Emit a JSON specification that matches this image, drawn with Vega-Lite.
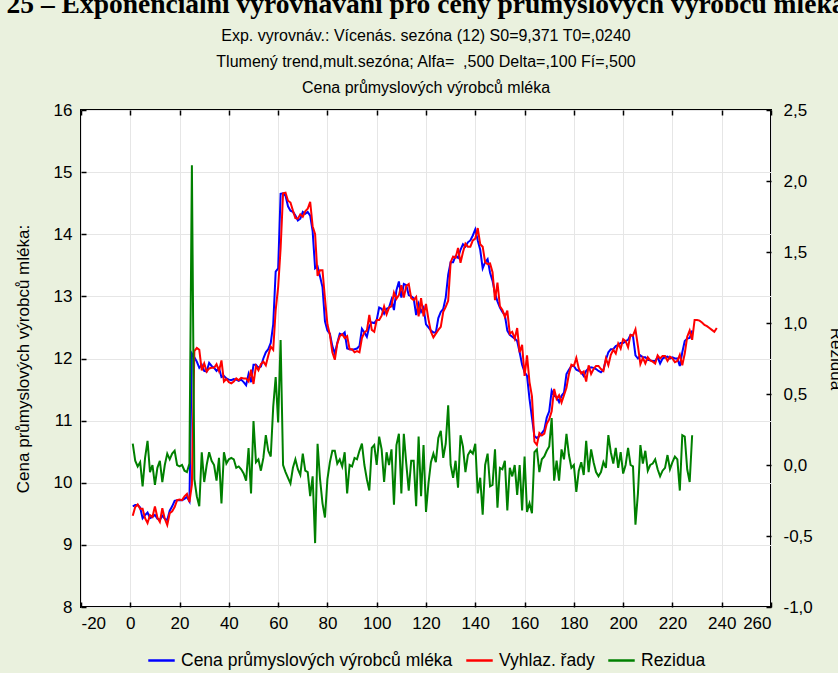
{
  "$schema": "https://vega.github.io/schema/vega-lite/v6.json",
  "width": 690,
  "height": 497,
  "autosize": {"type": "none"},
  "padding": {"left": 81, "top": 110, "right": 67, "bottom": 66},
  "background": "#eaf1de",
  "title": {
    "text": "25 – Exponenciální vyrovnávání pro ceny průmyslových výrobců mléka",
    "subtitle": ["Exp. vyrovnáv.: Vícenás. sezóna (12) S0=9,371 T0=,0240", "Tlumený trend,mult.sezóna; Alfa=\u00a0 ,500 Delta=,100 Fí=,500", "Cena průmyslových výrobců mléka"],
    "anchor": "middle",
    "font": "Liberation Serif",
    "fontSize": 27.5,
    "fontWeight": "bold",
    "color": "black",
    "subtitleFont": "Liberation Sans",
    "subtitleFontSize": 16,
    "subtitleColor": "black",
    "subtitleLineHeight": 26,
    "subtitlePadding": 10,
    "offset": 5
  },
  "data": {"values": [
{"t":1,"c":9.62,"r":9.47,"z":0.15},{"t":2,"c":9.64,"r":9.61,"z":0.03},{"t":3,"c":9.64,"r":9.65,"z":-0.01},{"t":4,"c":9.60,"r":9.58,"z":0.02},{"t":5,"c":9.43,"r":9.58,"z":-0.15},
{"t":6,"c":9.48,"r":9.43,"z":0.05},{"t":7,"c":9.52,"r":9.35,"z":0.17},{"t":8,"c":9.43,"r":9.48,"z":-0.05},{"t":9,"c":9.45,"r":9.45,"z":0.0},{"t":10,"c":9.48,"r":9.62,"z":-0.14},
{"t":11,"c":9.42,"r":9.44,"z":-0.02},{"t":12,"c":9.40,"r":9.37,"z":0.03},{"t":13,"c":9.47,"r":9.59,"z":-0.12},{"t":14,"c":9.42,"r":9.42,"z":0.0},{"t":15,"c":9.40,"r":9.32,"z":0.08},
{"t":16,"c":9.55,"r":9.51,"z":0.04},{"t":17,"c":9.62,"r":9.54,"z":0.08},{"t":18,"c":9.71,"r":9.61,"z":0.10},{"t":19,"c":9.72,"r":9.72,"z":0.0},{"t":20,"c":9.72,"r":9.73,"z":-0.01},
{"t":21,"c":9.72,"r":9.72,"z":0.0},{"t":22,"c":9.74,"r":9.78,"z":-0.04},{"t":23,"c":9.77,"r":9.82,"z":-0.05},{"t":24,"c":9.70,"r":9.69,"z":0.01},{"t":25,"c":12.08,"r":9.97,"z":2.11},
{"t":26,"c":12.02,"r":12.12,"z":-0.10},{"t":27,"c":11.95,"r":12.17,"z":-0.22},{"t":28,"c":11.85,"r":12.14,"z":-0.29},{"t":29,"c":11.90,"r":11.81,"z":0.09},{"t":30,"c":11.80,"r":11.92,"z":-0.12},
{"t":31,"c":11.79,"r":11.79,"z":0.0},{"t":32,"c":11.93,"r":11.84,"z":0.09},{"t":33,"c":11.88,"r":11.85,"z":0.03},{"t":34,"c":11.85,"r":11.85,"z":0.0},{"t":35,"c":11.80,"r":11.91,"z":-0.11},
{"t":36,"c":11.85,"r":11.80,"z":0.05},{"t":37,"c":11.70,"r":11.97,"z":-0.27},{"t":38,"c":11.72,"r":11.63,"z":0.09},{"t":39,"c":11.68,"r":11.67,"z":0.01},{"t":40,"c":11.66,"r":11.62,"z":0.04},
{"t":41,"c":11.65,"r":11.60,"z":0.05},{"t":42,"c":11.67,"r":11.63,"z":0.04},{"t":43,"c":11.66,"r":11.68,"z":-0.02},{"t":44,"c":11.64,"r":11.65,"z":-0.01},{"t":45,"c":11.66,"r":11.69,"z":-0.03},
{"t":46,"c":11.62,"r":11.68,"z":-0.06},{"t":47,"c":11.57,"r":11.68,"z":-0.11},{"t":48,"c":11.75,"r":11.63,"z":0.12},{"t":49,"c":11.62,"r":11.82,"z":-0.20},{"t":50,"c":11.90,"r":11.59,"z":0.31},
{"t":51,"c":11.90,"r":11.88,"z":0.02},{"t":52,"c":11.85,"r":11.81,"z":0.04},{"t":53,"c":11.87,"r":11.91,"z":-0.04},{"t":54,"c":12.00,"r":11.95,"z":0.05},{"t":55,"c":12.10,"r":11.89,"z":0.21},
{"t":56,"c":12.15,"r":12.05,"z":0.10},{"t":57,"c":12.25,"r":12.19,"z":0.06},{"t":58,"c":12.55,"r":12.14,"z":0.41},{"t":59,"c":13.40,"r":12.78,"z":0.62},{"t":60,"c":13.45,"r":13.15,"z":0.30},
{"t":61,"c":14.65,"r":13.77,"z":0.88},{"t":62,"c":14.66,"r":14.66,"z":0.0},{"t":63,"c":14.62,"r":14.67,"z":-0.05},{"t":64,"c":14.45,"r":14.54,"z":-0.09},{"t":65,"c":14.38,"r":14.51,"z":-0.13},
{"t":66,"c":14.36,"r":14.38,"z":-0.02},{"t":67,"c":14.30,"r":14.26,"z":0.04},{"t":68,"c":14.22,"r":14.25,"z":-0.03},{"t":69,"c":14.25,"r":14.32,"z":-0.07},{"t":70,"c":14.36,"r":14.28,"z":0.08},
{"t":71,"c":14.33,"r":14.37,"z":-0.04},{"t":72,"c":14.36,"r":14.41,"z":-0.05},{"t":73,"c":14.30,"r":14.52,"z":-0.22},{"t":74,"c":14.05,"r":14.13,"z":-0.08},{"t":75,"c":13.45,"r":14.00,"z":-0.55},
{"t":76,"c":13.48,"r":13.33,"z":0.15},{"t":77,"c":13.32,"r":13.42,"z":-0.10},{"t":78,"c":13.15,"r":13.42,"z":-0.27},{"t":79,"c":12.60,"r":12.97,"z":-0.37},{"t":80,"c":12.45,"r":12.55,"z":-0.10},
{"t":81,"c":12.40,"r":12.38,"z":0.02},{"t":82,"c":12.20,"r":12.10,"z":0.10},{"t":83,"c":12.08,"r":11.98,"z":0.10},{"t":84,"c":12.25,"r":12.24,"z":0.01},{"t":85,"c":12.40,"r":12.36,"z":0.04},
{"t":86,"c":12.38,"r":12.39,"z":-0.01},{"t":87,"c":12.42,"r":12.33,"z":0.09},{"t":88,"c":12.16,"r":12.36,"z":-0.20},{"t":89,"c":12.15,"r":12.15,"z":0.0},{"t":90,"c":12.14,"r":12.15,"z":-0.01},
{"t":91,"c":12.15,"r":12.10,"z":0.05},{"t":92,"c":12.16,"r":12.12,"z":0.04},{"t":93,"c":12.20,"r":12.10,"z":0.10},{"t":94,"c":12.48,"r":12.33,"z":0.15},{"t":95,"c":12.42,"r":12.42,"z":0.0},
{"t":96,"c":12.35,"r":12.45,"z":-0.10},{"t":97,"c":12.52,"r":12.70,"z":-0.18},{"t":98,"c":12.58,"r":12.46,"z":0.12},{"t":99,"c":12.57,"r":12.43,"z":0.14},{"t":100,"c":12.62,"r":12.62,"z":0.0},
{"t":101,"c":12.82,"r":12.62,"z":0.20},{"t":102,"c":12.80,"r":12.69,"z":0.11},{"t":103,"c":12.72,"r":12.84,"z":-0.12},{"t":104,"c":12.80,"r":12.71,"z":0.09},{"t":105,"c":12.82,"r":12.82,"z":0.0},
{"t":106,"c":12.95,"r":12.84,"z":0.11},{"t":107,"c":12.78,"r":13.06,"z":-0.28},{"t":108,"c":13.10,"r":12.96,"z":0.14},{"t":109,"c":13.24,"r":13.02,"z":0.22},{"t":110,"c":12.98,"r":13.18,"z":-0.20},
{"t":111,"c":13.20,"r":12.98,"z":0.22},{"t":112,"c":13.18,"r":13.17,"z":0.01},{"t":113,"c":13.02,"r":13.20,"z":-0.18},{"t":114,"c":13.00,"r":12.97,"z":0.03},{"t":115,"c":12.97,"r":12.94,"z":0.03},
{"t":116,"c":12.70,"r":12.99,"z":-0.29},{"t":117,"c":12.88,"r":12.68,"z":0.20},{"t":118,"c":12.75,"r":12.97,"z":-0.22},{"t":119,"c":12.82,"r":12.68,"z":0.14},{"t":120,"c":12.55,"r":12.88,"z":-0.33},
{"t":121,"c":12.50,"r":12.63,"z":-0.13},{"t":122,"c":12.45,"r":12.43,"z":0.02},{"t":123,"c":12.42,"r":12.34,"z":0.08},{"t":124,"c":12.42,"r":12.40,"z":0.02},{"t":125,"c":12.65,"r":12.46,"z":0.19},
{"t":126,"c":12.75,"r":12.51,"z":0.24},{"t":127,"c":12.80,"r":12.75,"z":0.05},{"t":128,"c":12.98,"r":12.83,"z":0.15},{"t":129,"c":13.35,"r":12.93,"z":0.42},{"t":130,"c":13.55,"r":13.55,"z":0.0},
{"t":131,"c":13.55,"r":13.64,"z":-0.09},{"t":132,"c":13.65,"r":13.62,"z":0.03},{"t":133,"c":13.62,"r":13.78,"z":-0.16},{"t":134,"c":13.75,"r":13.54,"z":0.21},{"t":135,"c":13.84,"r":13.71,"z":0.13},
{"t":136,"c":13.80,"r":13.85,"z":-0.05},{"t":137,"c":13.87,"r":13.80,"z":0.07},{"t":138,"c":13.90,"r":13.80,"z":0.10},{"t":139,"c":13.98,"r":13.90,"z":0.08},{"t":140,"c":14.08,"r":13.93,"z":0.15},
{"t":141,"c":13.90,"r":14.10,"z":-0.20},{"t":142,"c":13.75,"r":13.84,"z":-0.09},{"t":143,"c":13.45,"r":13.80,"z":-0.35},{"t":144,"c":13.55,"r":13.55,"z":0.0},{"t":145,"c":13.60,"r":13.52,"z":0.08},
{"t":146,"c":13.38,"r":13.53,"z":-0.15},{"t":147,"c":13.25,"r":13.39,"z":-0.14},{"t":148,"c":13.05,"r":12.94,"z":0.11},{"t":149,"c":12.92,"r":13.22,"z":-0.30},{"t":150,"c":12.82,"r":12.84,"z":-0.02},
{"t":151,"c":12.75,"r":12.78,"z":-0.03},{"t":152,"c":12.70,"r":12.67,"z":0.03},{"t":153,"c":12.45,"r":12.77,"z":-0.32},{"t":154,"c":12.38,"r":12.40,"z":-0.02},{"t":155,"c":12.35,"r":12.43,"z":-0.08},
{"t":156,"c":12.32,"r":12.32,"z":0.0},{"t":157,"c":12.28,"r":12.49,"z":-0.21},{"t":158,"c":12.10,"r":12.10,"z":0.0},{"t":159,"c":11.90,"r":12.22,"z":-0.32},{"t":160,"c":11.78,"r":11.72,"z":0.06},
{"t":161,"c":11.72,"r":12.05,"z":-0.33},{"t":162,"c":11.35,"r":11.62,"z":-0.27},{"t":163,"c":11.05,"r":11.39,"z":-0.34},{"t":164,"c":10.75,"r":10.66,"z":0.09},{"t":165,"c":10.72,"r":10.61,"z":0.11},
{"t":166,"c":10.75,"r":10.80,"z":-0.05},{"t":167,"c":10.80,"r":10.76,"z":0.04},{"t":168,"c":10.85,"r":10.79,"z":0.06},{"t":169,"c":11.05,"r":10.95,"z":0.10},{"t":170,"c":11.15,"r":11.02,"z":0.13},
{"t":171,"c":11.48,"r":11.15,"z":0.33},{"t":172,"c":11.40,"r":11.51,"z":-0.11},{"t":173,"c":11.38,"r":11.35,"z":0.03},{"t":174,"c":11.30,"r":11.41,"z":-0.11},{"t":175,"c":11.40,"r":11.29,"z":0.11},
{"t":176,"c":11.45,"r":11.41,"z":0.04},{"t":177,"c":11.75,"r":11.53,"z":0.22},{"t":178,"c":11.82,"r":11.75,"z":0.07},{"t":179,"c":11.88,"r":11.90,"z":-0.02},{"t":180,"c":11.88,"r":11.88,"z":0.0},
{"t":181,"c":11.82,"r":12.01,"z":-0.19},{"t":182,"c":11.80,"r":11.84,"z":-0.04},{"t":183,"c":11.78,"r":11.76,"z":0.02},{"t":184,"c":11.72,"r":11.79,"z":-0.07},{"t":185,"c":11.80,"r":11.63,"z":0.17},
{"t":186,"c":11.84,"r":11.89,"z":-0.05},{"t":187,"c":11.86,"r":11.75,"z":0.11},{"t":188,"c":11.85,"r":11.83,"z":0.02},{"t":189,"c":11.83,"r":11.88,"z":-0.05},{"t":190,"c":11.80,"r":11.88,"z":-0.08},
{"t":191,"c":11.78,"r":11.83,"z":-0.05},{"t":192,"c":11.82,"r":11.80,"z":0.02},{"t":193,"c":11.98,"r":12.00,"z":-0.02},{"t":194,"c":12.10,"r":11.89,"z":0.21},{"t":195,"c":12.15,"r":12.06,"z":0.09},
{"t":196,"c":12.15,"r":12.14,"z":0.01},{"t":197,"c":12.20,"r":12.08,"z":0.12},{"t":198,"c":12.22,"r":12.24,"z":-0.02},{"t":199,"c":12.25,"r":12.16,"z":0.09},{"t":200,"c":12.25,"r":12.31,"z":-0.06},
{"t":201,"c":12.28,"r":12.28,"z":0.0},{"t":202,"c":12.30,"r":12.18,"z":0.12},{"t":203,"c":12.38,"r":12.38,"z":0.0},{"t":204,"c":12.36,"r":12.37,"z":-0.01},{"t":205,"c":12.05,"r":12.47,"z":-0.42},
{"t":206,"c":12.00,"r":12.20,"z":-0.20},{"t":207,"c":12.05,"r":11.91,"z":0.14},{"t":208,"c":12.02,"r":12.01,"z":0.01},{"t":209,"c":12.02,"r":11.92,"z":0.10},{"t":210,"c":11.98,"r":12.02,"z":-0.04},
{"t":211,"c":11.97,"r":11.97,"z":0.0},{"t":212,"c":11.96,"r":11.95,"z":0.01},{"t":213,"c":11.96,"r":11.92,"z":0.04},{"t":214,"c":12.02,"r":12.05,"z":-0.03},{"t":215,"c":11.92,"r":12.00,"z":-0.08},
{"t":216,"c":12.00,"r":12.04,"z":-0.04},{"t":217,"c":12.02,"r":12.04,"z":-0.02},{"t":218,"c":12.03,"r":11.96,"z":0.07},{"t":219,"c":12.00,"r":12.03,"z":-0.03},{"t":220,"c":12.02,"r":12.00,"z":0.02},
{"t":221,"c":12.00,"r":11.94,"z":0.06},{"t":222,"c":12.00,"r":11.96,"z":0.04},{"t":223,"c":11.88,"r":12.06,"z":-0.18},{"t":224,"c":12.10,"r":11.89,"z":0.21},{"t":225,"c":12.28,"r":12.08,"z":0.20},
{"t":226,"c":12.32,"r":12.35,"z":-0.03},{"t":227,"c":12.33,"r":12.45,"z":-0.12},{"t":228,"c":12.45,"r":12.30,"z":0.21},
{"t":229,"c":null,"r":12.62,"z":null},{"t":230,"c":null,"r":12.62,"z":null},{"t":231,"c":null,"r":12.61,"z":null},{"t":232,"c":null,"r":12.58,"z":null},{"t":233,"c":null,"r":12.54,"z":null},
{"t":234,"c":null,"r":12.52,"z":null},{"t":235,"c":null,"r":12.49,"z":null},{"t":236,"c":null,"r":12.46,"z":null},{"t":237,"c":null,"r":12.43,"z":null},{"t":238,"c":null,"r":12.49,"z":null}
  ]},
  "layer": [
    {
      "layer": [
        {
          "mark": {"type": "line", "strokeWidth": 2, "clip": true},
          "encoding": {
            "x": {"field": "t", "type": "quantitative", "scale": {"domain": [-20, 260], "nice": false, "zero": false}, "axis": {"tickCount": 14}, "title": null},
            "y": {"field": "c", "type": "quantitative", "scale": {"domain": [8, 16], "nice": false, "zero": false}, "axis": {"tickCount": 8}, "title": "Cena průmyslových výrobců mléka:"},
            "color": {"datum": "Cena průmyslových výrobců mléka", "type": "nominal"}
          }
        },
        {
          "mark": {"type": "line", "strokeWidth": 2, "clip": true},
          "encoding": {
            "x": {"field": "t", "type": "quantitative", "scale": {"domain": [-20, 260], "nice": false, "zero": false}, "axis": {"tickCount": 14}, "title": null},
            "y": {"field": "r", "type": "quantitative", "scale": {"domain": [8, 16], "nice": false, "zero": false}, "axis": {"tickCount": 8}, "title": "Cena průmyslových výrobců mléka:"},
            "color": {"datum": "Vyhlaz. řady", "type": "nominal"}
          }
        }
      ]
    },
    {
      "mark": {"type": "line", "strokeWidth": 2, "clip": true},
      "encoding": {
        "x": {"field": "t", "type": "quantitative", "scale": {"domain": [-20, 260], "nice": false, "zero": false}, "axis": {"orient": "top", "tickCount": 14, "labels": false, "grid": false}, "title": null},
        "y": {"field": "z", "type": "quantitative", "scale": {"domain": [-1, 2.5], "nice": false, "zero": false}, "axis": {"orient": "right", "tickCount": 7, "grid": false, "labelExpr": "(datum.value < 0 ? '-' : '') + replace(format(abs(datum.value), '.1f'), '.', ',')"}, "title": "Rezidua"},
        "color": {"datum": "Rezidua", "type": "nominal", "scale": {"domain": ["Cena průmyslových výrobců mléka", "Vyhlaz. řady", "Rezidua"], "range": ["#0000ff", "#ff0000", "#008000"]}, "legend": {"orient": "bottom", "direction": "horizontal", "title": null}}
      }
    }
  ],
  "resolve": {"scale": {"y": "independent"}, "axis": {"x": "independent"}},
  "config": {
    "font": "Liberation Sans",
    "view": {"stroke": "black", "strokeWidth": 2, "fill": "white"},
    "axis": {
      "domain": false,
      "grid": true,
      "gridColor": "#e6e6e6",
      "gridWidth": 1,
      "tickColor": "black",
      "tickSize": -5,
      "tickWidth": 1.5,
      "labelFont": "Liberation Sans",
      "labelFontSize": 17,
      "labelColor": "black",
      "titleFont": "Liberation Sans",
      "titleFontSize": 17,
      "titleFontWeight": "normal",
      "titleColor": "black"
    },
    "axisX": {"labelPadding": 13, "labelExpr": "datum.value < 0 ? '-' + abs(datum.value) : '' + datum.value"},
    "axisLeft": {"labelPadding": 14, "titlePadding": 21},
    "axisRight": {"labelPadding": 17, "titlePadding": 14},
    "legend": {
      "labelFont": "Liberation Sans",
      "labelFontSize": 17.5,
      "labelColor": "black",
      "labelLimit": 400,
      "symbolType": "stroke",
      "symbolStrokeWidth": 2.5,
      "symbolSize": 700,
      "columnPadding": 8,
      "labelOffset": 5,
      "offset": 15,
      "layout": {"bottom": {"anchor": "middle"}}
    }
  }
}
